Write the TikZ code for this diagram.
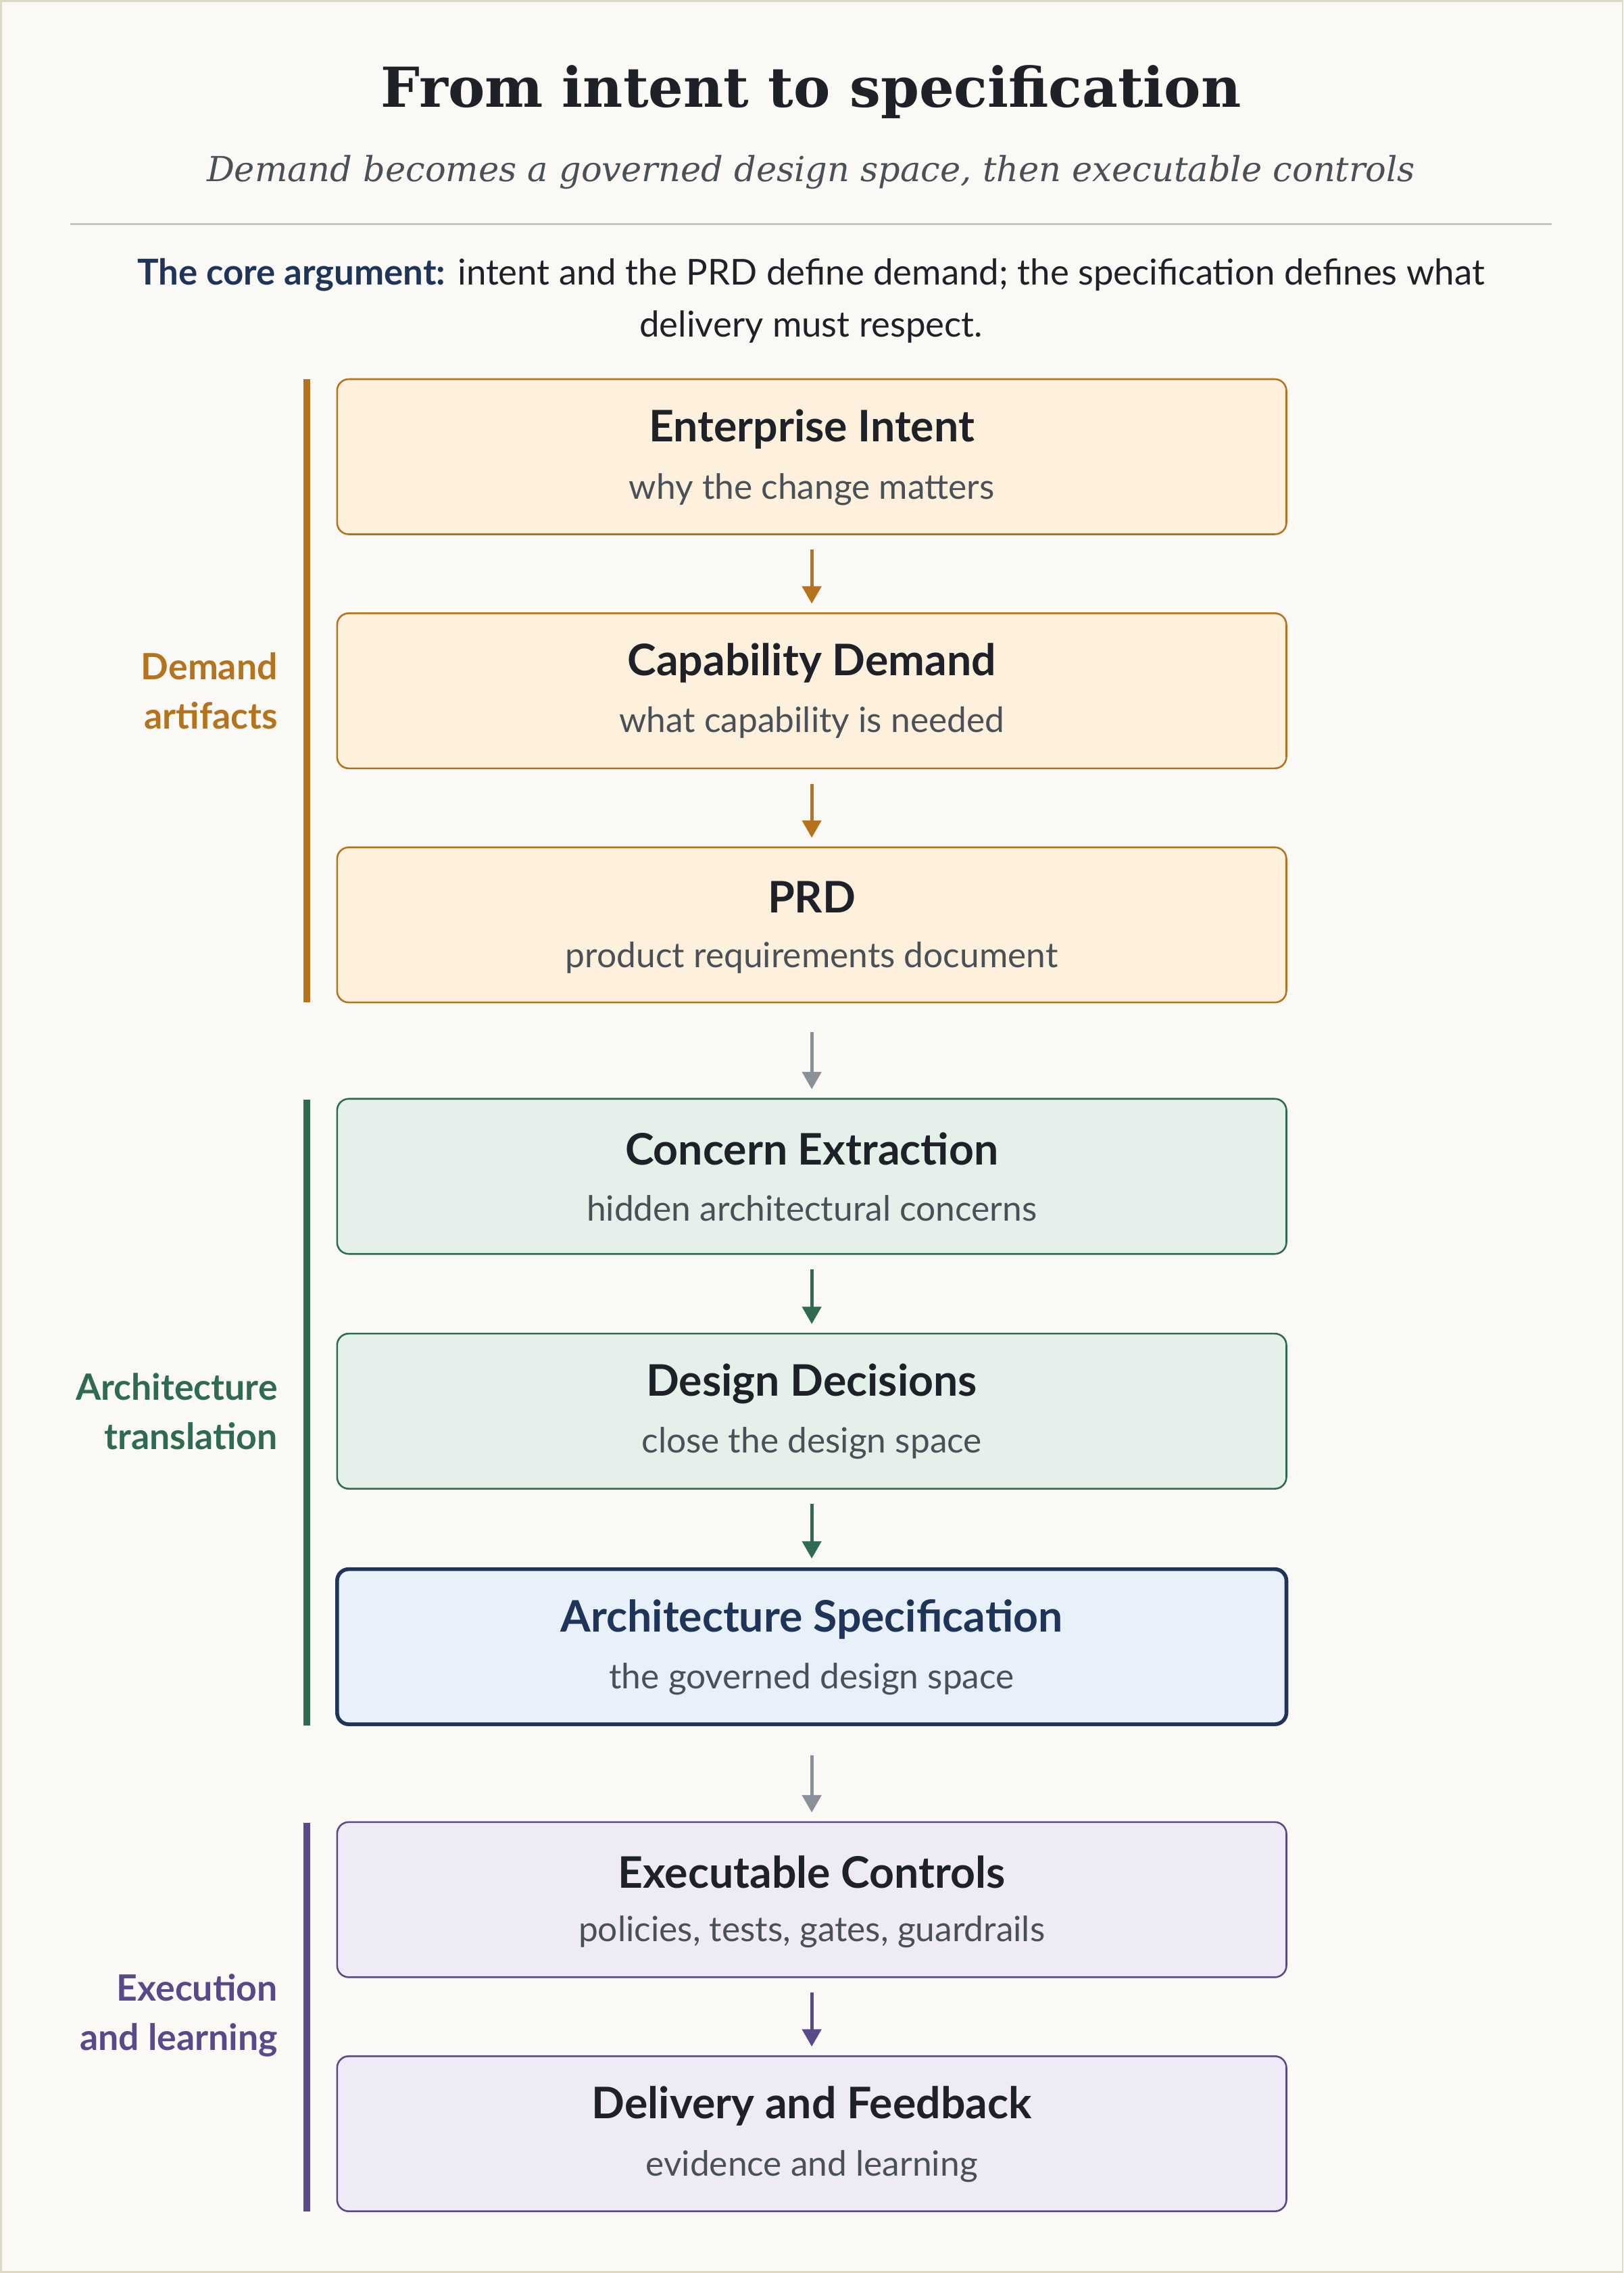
\documentclass[tikz,border=0pt]{standalone}
\usepackage{fontspec}
\setmainfont{Lato}
\newfontfamily\serifT{DejaVu Serif}
\usetikzlibrary{arrows.meta}
\definecolor{bg}{HTML}{FAF9F5}
\definecolor{frame}{HTML}{DCD8C4}
\definecolor{ink}{HTML}{1E2228}
\definecolor{sub}{HTML}{4A5058}
\definecolor{ora}{HTML}{B5731E}\definecolor{oraf}{HTML}{FDF0DC}
\definecolor{grn}{HTML}{2E6B4F}\definecolor{grnf}{HTML}{E6F0EA}
\definecolor{nav}{HTML}{1F3459}\definecolor{navf}{HTML}{E8F0FA}
\definecolor{pur}{HTML}{584A8A}\definecolor{purf}{HTML}{EEEBF7}
\definecolor{gar}{HTML}{8A9098}
\begin{document}
\begin{tikzpicture}[x=0.5pt,y=-0.5pt,
  box/.style={draw=#1,line width=0.6pt,rounded corners=4pt,minimum width=327.5pt,minimum height=53.5pt,inner sep=0pt},
  ttl/.style={font=\fontsize{15}{17}\selectfont\bfseries,text=ink},
  stl/.style={font=\fontsize{12}{14}\selectfont,text=sub},
  arr/.style={draw=#1,line width=1.2pt,-{Triangle[length=6pt,width=6.5pt]}},
  bar/.style={draw=#1,line width=2.2pt},
  lab/.style={font=\fontsize{12.5}{17}\selectfont\bfseries,text=#1,align=right,anchor=east}]
\path[use as bounding box,fill=bg,draw=frame,line width=0.6pt] (0,0) rectangle (1119,1567);
\node (title) at (559,63) {\serifT\fontsize{19}{22}\selectfont\bfseries\color{ink}From intent to specification};
\node (subt) at (559,118) {\serifT\fontsize{11.9}{14}\selectfont\itshape\color{sub}Demand becomes a governed design space, then executable controls};
\draw[draw=gray!45,line width=0.6pt] (48,154) -- (1070,154);
\node[align=center,font=\fontsize{12.3}{18}\selectfont,text=ink] (core) at (559,207) {\textcolor{nav}{\bfseries The core argument:} intent and the PRD define demand; the specification defines what\\delivery must respect.};
% boxes
\def\B#1#2#3#4#5#6#7{%
 \node[box=#2,fill=#3,#7] (#1) at (559.5,#4) {};
 \node[ttl,#6] (#1t) at (559.5,#4-19) {#5};}
\B{b1}{ora}{oraf}{314.5}{Enterprise Intent}{}{}
\node[stl] (b1s) at (559.5,337) {why the change matters};
\B{b2}{ora}{oraf}{476}{Capability Demand}{}{}
\node[stl] (b2s) at (559.5,498) {what capability is needed};
\B{b3}{ora}{oraf}{637.5}{PRD}{}{}
\node[stl] (b3s) at (559.5,660) {product requirements document};
\B{b4}{grn}{grnf}{811}{Concern Extraction}{}{}
\node[stl] (b4s) at (559.5,833) {hidden architectural concerns};
\B{b5}{grn}{grnf}{973}{Design Decisions}{}{}
\node[stl] (b5s) at (559.5,995) {close the design space};
\B{b6}{nav}{navf}{1135.5}{Architecture Specification}{text=nav}{line width=1.3pt}
\node[stl] (b6s) at (559.5,1158) {the governed design space};
\B{b7}{pur}{purf}{1310}{Executable Controls}{}{}
\node[stl] (b7s) at (559.5,1332) {policies, tests, gates, guardrails};
\B{b8}{pur}{purf}{1471.5}{Delivery and Feedback}{}{}
\node[stl] (b8s) at (559.5,1494) {evidence and learning};
% arrows
\draw[arr=ora] ([yshift=-5pt]b1.south) -- ([yshift=3pt]b2.north);
\draw[arr=ora] ([yshift=-5pt]b2.south) -- ([yshift=3pt]b3.north);
\draw[arr=gar] ([yshift=-10pt]b3.south) -- ([yshift=3pt]b4.north);
\draw[arr=grn] ([yshift=-5pt]b4.south) -- ([yshift=3pt]b5.north);
\draw[arr=grn] ([yshift=-5pt]b5.south) -- ([yshift=3pt]b6.north);
\draw[arr=gar] ([yshift=-10pt]b6.south) -- ([yshift=3pt]b7.north);
\draw[arr=pur] ([yshift=-5pt]b7.south) -- ([yshift=3pt]b8.north);
% bars
\coordinate (o1) at (211,261); \coordinate (o2) at (211,691);
\coordinate (g1) at (211,758); \coordinate (g2) at (211,1190);
\coordinate (p1) at (211,1257); \coordinate (p2) at (211,1525);
\draw[bar=ora] (o1) -- (o2);
\draw[bar=grn] (g1) -- (g2);
\draw[bar=pur] (p1) -- (p2);
\node[lab=ora] (l1) at (198,476) {Demand\\artifacts};
\node[lab=grn] (l2) at (198,973) {Architecture\\translation};
\node[lab=pur] (l3) at (198,1390) {Execution\\and learning};
\end{tikzpicture}
\end{document}
